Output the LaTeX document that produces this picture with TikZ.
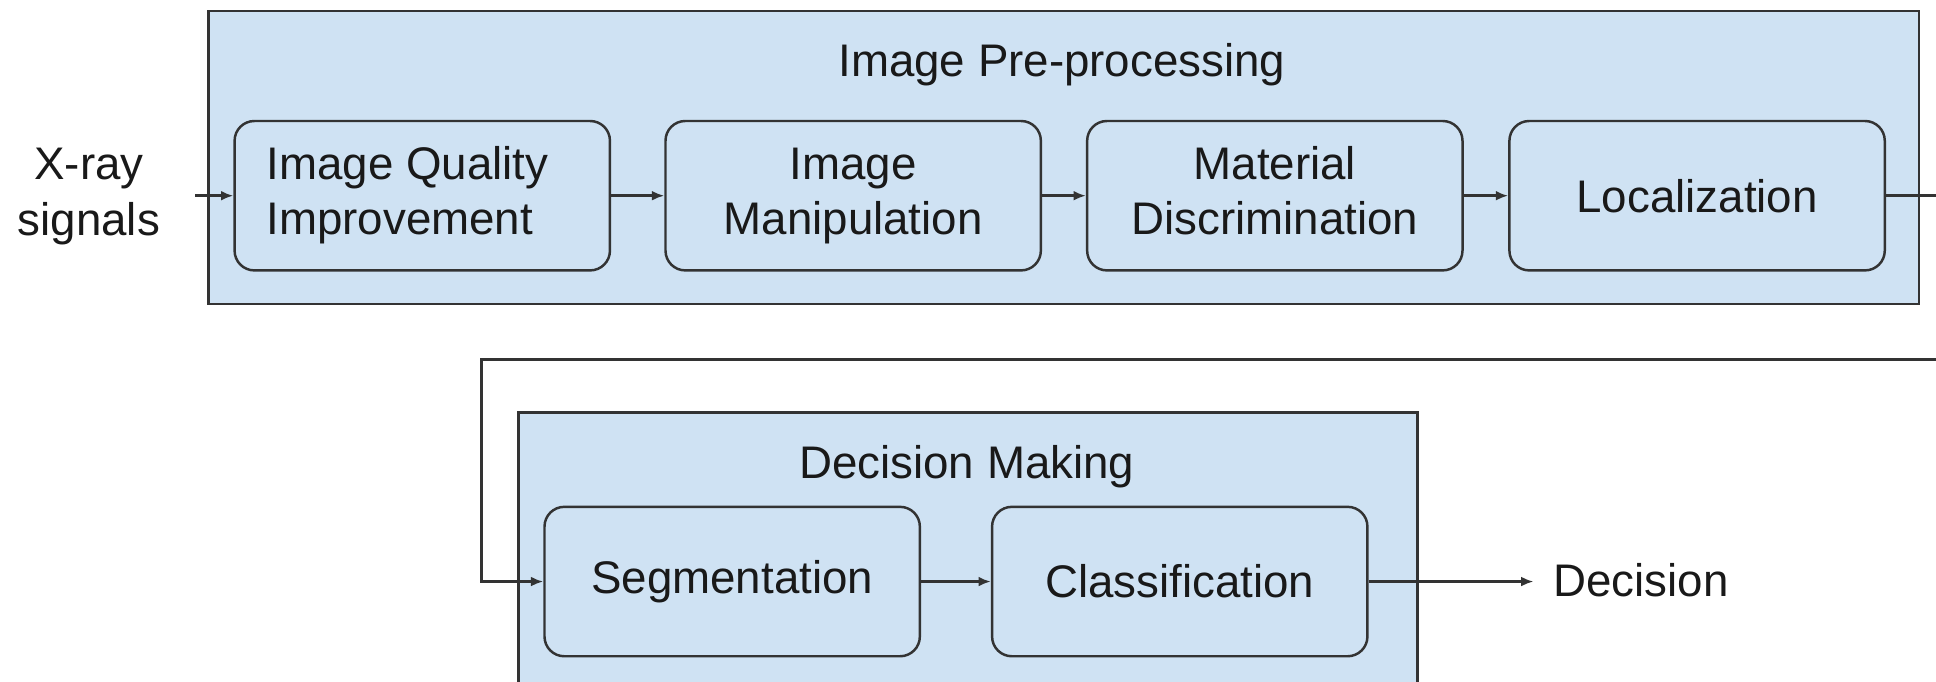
\documentclass[tikz,border=0pt]{standalone}
\usepackage{fontspec}
\setmainfont{Liberation Sans}
\usetikzlibrary{arrows.meta}
\definecolor{boxfill}{HTML}{CFE2F3}
\definecolor{linec}{HTML}{333333}
\newcommand{\twolines}[3]{\raisebox{-4pt}{\begin{tabular}{@{}#1@{}}#2\\#3\end{tabular}}}
\begin{document}
\begin{tikzpicture}[x=1pt,y=-1pt,
  every node/.style={font=\fontsize{37}{45}\selectfont, text=black!90},
  groupbox/.style={draw=linec, line width=2pt, fill=boxfill, anchor=north west, inner sep=0pt},
  stagebox/.style={draw=linec, line width=2pt, fill=boxfill, rounded corners=16pt, minimum width=304pt, minimum height=121pt, inner sep=0pt},
  conn/.style={draw=linec, line width=2pt, -{Latex[length=10pt,width=8pt]}}
]
\useasboundingbox (0,0) rectangle (1568,552);
\clip (0,0) rectangle (1568,552);
% group boxes
\node[groupbox, minimum width=1385pt, minimum height=237pt] (pre) at (168,8) {};
\node (pretitle) at (860,52) {Image Pre-processing};
\node[groupbox, minimum width=728pt, minimum height=260pt] (dec) at (419,333) {};
\node (dectitle) at (783,378) {Decision Making};
% stages
\node[stagebox] (iqi) at (342,158.5) {\twolines{l}{Image Quality}{Improvement}\hspace*{24pt}};
\node[stagebox] (im) at (691,158.5) {\twolines{c}{Image}{Manipulation}};
\node[stagebox] (md) at (1032.5,158.5) {\twolines{c}{Material}{Discrimination}};
\node[stagebox] (loc) at (1374.5,158.5) {Localization};
\node[stagebox] (seg) at (593,471) {Segmentation};
\node[stagebox] (cls) at (955.5,471) {Classification};
% io labels
\node[align=center] (xray) at (72,159) {X-ray\\signals};
\coordinate (xin) at (158,158.5);
\node[anchor=west, inner sep=0pt] (decision) at (1258,470) {Decision};
\coordinate (dend) at (1242,471);
% connectors
\draw[conn] (xin) -- (iqi.west);
\draw[conn] (iqi) -- (im);
\draw[conn] (im) -- (md);
\draw[conn] (md) -- (loc);
\coordinate (r1) at (1600,158.5);
\coordinate (r2) at (1600,291);
\coordinate (l2) at (390,291);
\draw[conn] (loc.east) -- (r1) -- (r2) -- (l2) |- (seg.west);
\draw[conn] (seg) -- (cls);
\draw[conn] (cls.east) -- (dend);
\end{tikzpicture}
\end{document}
